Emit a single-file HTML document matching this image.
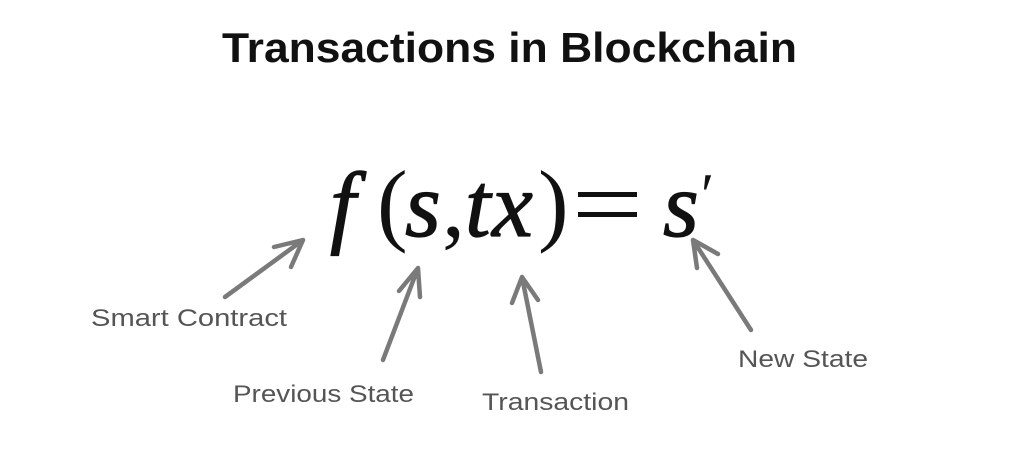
<!DOCTYPE html>
<html><head><meta charset="utf-8"><style>
html,body{margin:0;padding:0;background:#fff;}
svg{display:block;}
</style></head><body>
<svg width="1024" height="452" viewBox="0 0 1024 452" xmlns="http://www.w3.org/2000/svg">
<rect width="1024" height="452" fill="#fff"/>
<text x="222" y="62" font-family="Liberation Sans, sans-serif" font-weight="bold" font-size="42" fill="#111" textLength="575" lengthAdjust="spacingAndGlyphs">Transactions in Blockchain</text>
<g font-family="Liberation Serif, serif" font-size="92" fill="#111" stroke="#111" stroke-width="1.2">
<text x="330" y="236" font-style="italic">f</text>
<text x="405" y="236" font-style="italic">s</text>
<text x="465" y="236" font-style="italic">t</text>
<text x="492" y="236" font-style="italic">x</text>
<text x="663" y="236" font-style="italic">s</text>
</g>
<g font-family="Liberation Serif, serif" font-size="92" fill="#111">
<text x="377" y="234">(</text>
<text x="442" y="236">,</text>
<text x="538" y="234">)</text>
<text x="701" y="215" font-size="60">′</text>
</g>
<rect x="578" y="192" width="59" height="5" fill="#111"/>
<rect x="578" y="212" width="59" height="5" fill="#111"/>
<g stroke="#7a7a7a" stroke-width="4.5" stroke-linecap="round" fill="none">
<path d="M225 297 L303 240 M303 240 L274 247 M303 240 L291 267"/>
<path d="M383 360 L418 268 M418 268 L399 291 M418 268 L420 297"/>
<path d="M541 372 L522 277 M522 277 L512 303 M522 277 L538 300"/>
<path d="M751 330 L693 240 M693 240 L697 268 M693 240 L718 254"/>
</g>
<g font-family="Liberation Sans, sans-serif" font-size="24" fill="#555">
<text x="91" y="326" textLength="196" lengthAdjust="spacingAndGlyphs">Smart Contract</text>
<text x="233" y="402" textLength="181" lengthAdjust="spacingAndGlyphs">Previous State</text>
<text x="482" y="410" textLength="147" lengthAdjust="spacingAndGlyphs">Transaction</text>
<text x="738" y="367" textLength="130" lengthAdjust="spacingAndGlyphs">New State</text>
</g>
</svg>
</body></html>
